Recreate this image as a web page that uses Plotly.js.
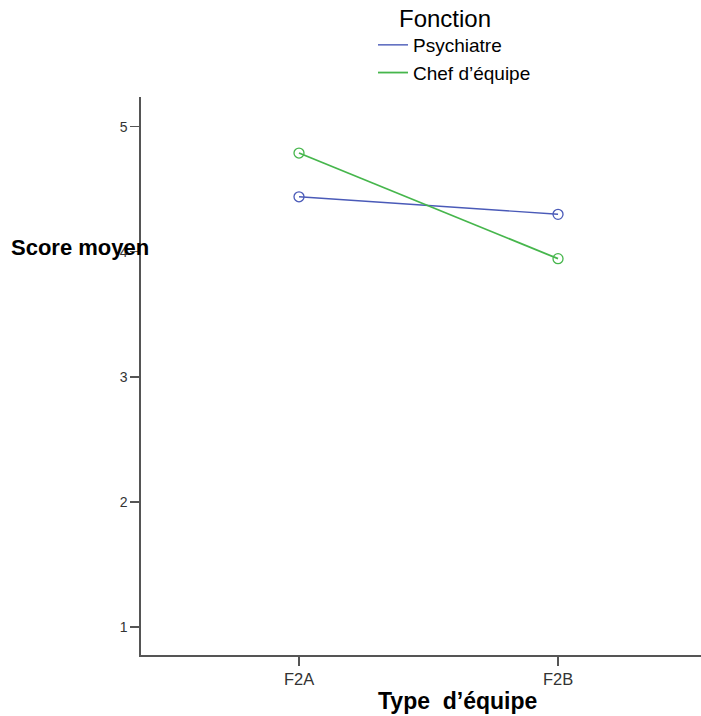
<!DOCTYPE html>
<html>
<head>
<meta charset="utf-8">
<script src="https://cdn.plot.ly/plotly-3.0.1.min.js"></script>
<style>html,body{margin:0;padding:0;background:#fff;}#chart{width:701px;height:716px;}</style>
</head>
<body>
<div id="chart"></div>
<script>
const categories = ["F2A", "F2B"];
const psychiatre = [4.44, 4.30];
const chefEquipe = [4.79, 3.945];
const seriesNames = ["Psychiatre", "Chef d\u2019\u00e9quipe"];
const yTicks = [1, 2, 3, 4, 5];

const blue = "#4a5ab8";
const green = "#46b64c";
const axisColor = "#555555";

const traces = [
  {x: categories, y: psychiatre, name: seriesNames[0], type: "scatter", mode: "lines",
   line: {color: blue, width: 1.4}, showlegend: true, hoverinfo: "skip"},
  {x: categories, y: chefEquipe, name: seriesNames[1], type: "scatter", mode: "lines",
   line: {color: green, width: 1.8}, showlegend: true, hoverinfo: "skip"},
  {x: categories, y: psychiatre, name: seriesNames[0], type: "scatter", mode: "markers",
   marker: {symbol: "circle-open", size: 10, color: blue, line: {width: 1.3, color: blue}}, showlegend: false},
  {x: categories, y: chefEquipe, name: seriesNames[1], type: "scatter", mode: "markers",
   marker: {symbol: "circle-open", size: 10, color: green, line: {width: 1.3, color: green}}, showlegend: false}
];

const layout = {
  width: 701, height: 716,
  margin: {l: 141, r: 0, t: 97, b: 61, pad: 0, autoexpand: false},
  paper_bgcolor: "#ffffff", plot_bgcolor: "#ffffff",
  font: {family: "Liberation Sans, Arial, sans-serif", color: "#000"},
  xaxis: {
    type: "category", range: [-0.61, 1.552], showgrid: false, zeroline: false,
    showline: true, linecolor: axisColor, linewidth: 1.6,
    ticks: "outside", ticklen: 9, tickcolor: axisColor, tickwidth: 1.3,
    tickfont: {size: 16.5, color: "#333"}, fixedrange: true, automargin: false
  },
  yaxis: {
    range: [0.776, 5.238], tickvals: yTicks, showgrid: false, zeroline: false,
    showline: true, linecolor: axisColor, linewidth: 1.6,
    ticks: "outside", ticklen: 9, tickcolor: axisColor, tickwidth: 1.3,
    tickfont: {size: 14, color: "#333"}, fixedrange: true, automargin: false
  },
  showlegend: true,
  legend: {
    xref: "container", yref: "container", x: 373/701, y: 1 - 26/716,
    xanchor: "left", yanchor: "top", bgcolor: "rgba(0,0,0,0)",
    font: {size: 19, color: "#000"}, itemwidth: 30, tracegroupgap: 0
  },
  annotations: [
    {text: "Fonction", xref: "paper", yref: "paper", x: (397 - 141) / 560, y: (655 - 19) / 558,
     xanchor: "left", yanchor: "middle", showarrow: false, font: {size: 24, color: "#000"}},
    {text: "<b>Score moyen</b>", xref: "paper", yref: "paper", x: (9 - 141) / 560, y: (655 - 247) / 558,
     xanchor: "left", yanchor: "middle", showarrow: false, font: {size: 22, color: "#000"}},
    {text: "<b>Type\u00a0 d\u2019\u00e9quipe</b>", xref: "paper", yref: "paper", x: (457 - 141) / 560, y: (655 - 701) / 558,
     xanchor: "center", yanchor: "middle", showarrow: false, font: {size: 23, color: "#000"}}
  ]
};

Plotly.newPlot("chart", traces, layout, {displayModeBar: false, staticPlot: true});
</script>
</body>
</html>
